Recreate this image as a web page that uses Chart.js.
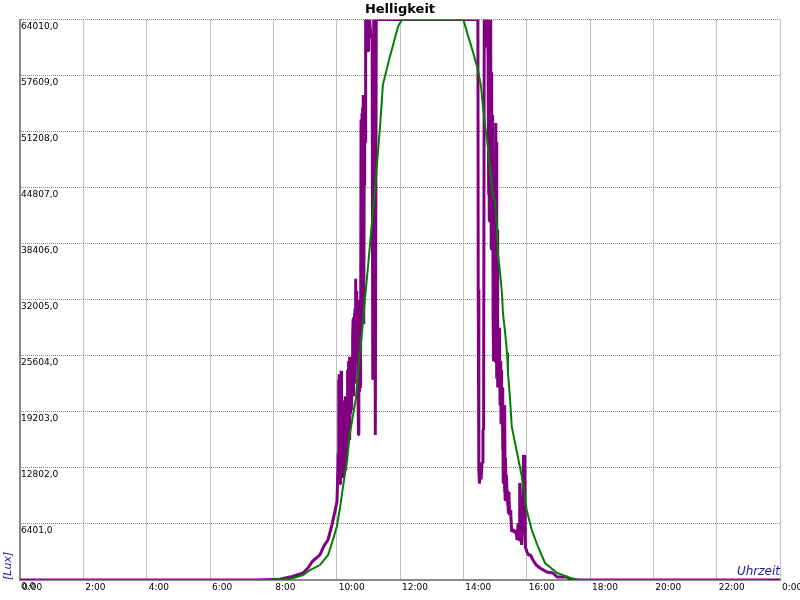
<!DOCTYPE html>
<html lang="de">
<head>
<meta charset="UTF-8">
<title>Helligkeit</title>
<script src="https://cdn.jsdelivr.net/npm/chart.js@4.4.0/dist/chart.umd.min.js"></script>
<style>
  html, body { margin: 0; padding: 0; background: #fff; }
  .chart-container { width: 800px; height: 600px; }
</style>
</head>
<body>
<div class="chart-container">
  <canvas id="myChart" width="800" height="600"></canvas>
</div>
<script>
// time in hours, brightness in lux
const greenHours = [0.47, 7.9, 8.53, 8.94, 9.16, 9.47, 9.73, 9.88, 10.01, 10.11, 10.2, 10.33, 10.42, 10.52,
  10.61, 10.71, 10.8, 10.89, 10.99, 11.08, 11.15, 11.21, 11.31, 11.37, 11.46, 11.68, 11.94, 12.06,
  14.0, 14.12, 14.31, 14.46, 14.56, 14.62, 14.69, 14.75, 14.84, 14.94, 15.0, 15.06, 15.09, 15.16,
  15.22, 15.25, 15.32, 15.38, 15.41, 15.47, 15.53, 15.66, 15.85, 16.0, 16.16, 16.36, 16.58, 16.96,
  17.37, 17.68, 23.6];
const greenLux = [0, 0, 114, 570, 1140, 1710, 2860, 4570, 6170, 8340, 10630, 13720, 16800, 18860,
  20800, 25150, 28230, 32000, 35780, 39430, 42290, 44580, 49150, 51780, 56580, 59780, 63210, 64010,
  64010, 62520, 60240, 58290, 56350, 54060, 51780, 50290, 47200, 43780, 43430, 40350, 37380, 35090,
  32800, 30520, 28230, 25950, 23660, 20920, 17490, 15200, 11770, 8000, 5720, 3770, 1940, 800,
  230, 0, 0];

// morning: calm ramp, then the noisy rise
const purpleHoursAm = [0, 7.5, 8.2, 8.6, 8.94, 9.1, 9.22, 9.35, 9.47, 9.6, 9.73, 9.85, 9.95, 10.01,
  10.04, 10.05, 10.06, 10.07, 10.08, 10.09, 10.10, 10.11, 10.12, 10.13, 10.14, 10.15, 10.16, 10.18,
  10.19, 10.20, 10.21, 10.22, 10.23, 10.24, 10.25, 10.26, 10.27, 10.28, 10.29, 10.30, 10.31, 10.32,
  10.33, 10.34, 10.35, 10.36, 10.37, 10.38, 10.39, 10.40, 10.41, 10.42, 10.43, 10.44, 10.45, 10.46,
  10.47, 10.48, 10.49, 10.50, 10.51, 10.52, 10.53, 10.54, 10.55, 10.56, 10.57, 10.58, 10.59, 10.60,
  10.61, 10.62, 10.63, 10.64, 10.65, 10.66, 10.67, 10.69, 10.70, 10.71, 10.72, 10.73, 10.74, 10.75,
  10.76, 10.77, 10.78, 10.79, 10.80, 10.81, 10.82, 10.83, 10.84, 10.85, 10.86, 10.87, 10.88, 10.89,
  10.90, 10.91, 10.92, 10.95, 10.97, 10.99, 11.01, 11.04, 11.08, 11.12, 11.14, 11.17, 11.2, 11.22,
  11.25];
const purpleLuxAm = [0, 0, 100, 400, 800, 1400, 2060, 2500, 2860, 3900, 4600, 6300, 7900, 9000,
  12800, 14500, 22900, 12000, 23500, 12500, 19000, 11000, 18000, 13000, 23900, 12500, 16000, 13000,
  15500, 11800, 17000, 13500, 20500, 14000, 19000, 14500, 21000, 12500, 20000, 13500, 18500, 15000,
  16000, 17500, 24000, 19000, 25000, 19000, 24500, 17000, 25500, 16000, 22000, 19000, 24000, 19500,
  24500, 20500, 23500, 21000, 28000, 29800, 21000, 30000, 22500, 30500, 26000, 31000, 25000, 34000,
  34400, 27500, 33000, 26000, 32000, 25000, 24000, 16600, 22000, 25000, 21500, 28500, 22000, 30000,
  24000, 52600, 30000, 35000, 53300, 33000, 54000, 40000, 55400, 36000, 29200, 48000, 45000, 55000,
  50000, 60000, 64010, 64010, 60450, 60450, 64010, 64010, 62000, 62000, 22860, 64010, 64010, 16570,
  64010];

// afternoon: dip, noisy fall, calm tail
const purpleHoursPm = [14.43, 14.46, 14.47, 14.49, 14.51, 14.53, 14.56, 14.59, 14.62, 14.64, 14.66,
  14.68, 14.70, 14.72, 14.74, 14.76, 14.78, 14.79, 14.80, 14.81, 14.82, 14.83, 14.84, 14.85, 14.86,
  14.87, 14.88, 14.89, 14.90, 14.91, 14.92, 14.93, 14.94, 14.95, 14.96, 14.97, 14.98, 14.99, 15.00,
  15.02, 15.03, 15.04, 15.05, 15.06, 15.07, 15.08, 15.09, 15.10, 15.11, 15.12, 15.13, 15.14, 15.15,
  15.16, 15.18, 15.19, 15.20, 15.22, 15.23, 15.24, 15.25, 15.26, 15.27, 15.28, 15.29, 15.30, 15.31,
  15.32, 15.33, 15.35, 15.36, 15.38, 15.40, 15.41, 15.42, 15.44, 15.46, 15.48, 15.50, 15.53, 15.56,
  15.60, 15.63, 15.66, 15.70, 15.73, 15.76, 15.78, 15.80, 15.82, 15.84, 15.87, 15.90, 15.92, 15.94,
  15.96, 16.01, 16.06, 16.12, 16.20, 16.30, 16.42, 16.55, 16.64, 16.83, 16.96, 17.27, 17.37, 17.5, 24];
const purpleLuxPm = [64010, 64010, 33150, 12500, 11000, 12500, 11500, 13400, 17150, 17150, 64010,
  64010, 64010, 61000, 64010, 64010, 60000, 64010, 44000, 64010, 41000, 62000, 42000, 64010, 41000,
  60000, 38000, 58000, 37700, 53000, 37700, 53100, 30000, 45000, 25000, 40000, 26000, 38000, 25000,
  45000, 52200, 30000, 50000, 23000, 40000, 22000, 28800, 22400, 28000, 23000, 28800, 22000, 26000,
  20000, 25000, 17900, 24000, 18000, 22000, 14860, 20500, 11090, 19000, 12000, 19500, 10000, 20000,
  9140, 14000, 10000, 12000, 10060, 8500, 10200, 7660, 10060, 7400, 8000, 7400, 5490, 5800,
  5490, 5500, 5700, 4570, 6500, 4570, 11090, 5000, 9500, 4000, 6000, 14290, 10000, 14290,
  3770, 3200, 2860, 2860, 2290, 1710, 1370, 1100, 915, 800, 340, 340, 114, 0, 0];

const yMax = 64010;
const yStep = 6401;

const toPoints = (xs, ys) => xs.map((x, i) => ({ x: x, y: ys[i] }));

Chart.defaults.font.family = 'DejaVu Sans';
Chart.defaults.color = '#000';

const data = {
  datasets: [
    {
      label: 'Aussen',
      data: toPoints(greenHours, greenLux),
      borderColor: '#008000',
      borderWidth: 2,
      pointRadius: 0,
      tension: 0,
      order: 0
    },
    {
      label: 'Sensor',
      data: toPoints(purpleHoursAm.concat(purpleHoursPm), purpleLuxAm.concat(purpleLuxPm)),
      borderColor: '#800080',
      borderWidth: 3,
      borderJoinStyle: 'bevel',
      pointRadius: 0,
      tension: 0,
      order: 1
    }
  ]
};

const config = {
  type: 'line',
  data,
  options: {
    responsive: false,
    animation: false,
    devicePixelRatio: 1,
    layout: { padding: 0 },
    scales: {
      x: {
        type: 'linear',
        min: 0,
        max: 24,
        grid: {
          color: '#888',
          lineWidth: 1,
          drawTicks: false
        },
        border: { color: '#888', width: 2, dash: [1, 1] },
        ticks: {
          stepSize: 2,
          autoSkip: false,
          maxRotation: 0,
          align: 'start',
          labelOffset: 2,
          padding: 2,
          font: { size: 9 },
          callback: v => (v % 24) + ':00'
        },
        title: {
          display: true,
          text: 'Uhrzeit',
          align: 'end',
          color: '#1a1a99',
          font: { size: 12, style: 'italic' },
          padding: { top: 0, bottom: 21 }
        },
        afterFit: axis => {
          // room on the right for the last label, as in the original
          axis.height = 20;
          axis.paddingLeft = 0;
          axis.paddingRight = 20;
        }
      },
      y: {
        min: 0,
        max: yMax,
        grid: {
          color: '#888',
          lineWidth: 1,
          drawTicks: false
        },
        border: { color: '#888', width: 2, dash: [1, 1] },
        ticks: {
          stepSize: yStep,
          mirror: true,
          padding: 1,
          labelOffset: 7,
          font: { size: 9 },
          callback: v => v.toFixed(1).replace('.', ',')
        },
        title: {
          display: true,
          text: '[Lux]',
          align: 'start',
          color: '#1a1a99',
          font: { size: 11, style: 'italic' },
          padding: { top: 2, bottom: 0 }
        },
        afterFit: axis => {
          axis.width = 20;
          axis.paddingTop = 0;
          axis.paddingBottom = 0;
        }
      }
    },
    plugins: {
      legend: { display: false },
      tooltip: { enabled: false },
      title: {
        display: true,
        text: 'Helligkeit',
        color: '#000',
        font: { size: 13, weight: 'bold' },
        padding: { top: 2, bottom: 2 }
      }
    }
  }
};

const ctx = document.getElementById('myChart').getContext('2d');
const myChart = new Chart(ctx, config);
</script>
</body>
</html>
